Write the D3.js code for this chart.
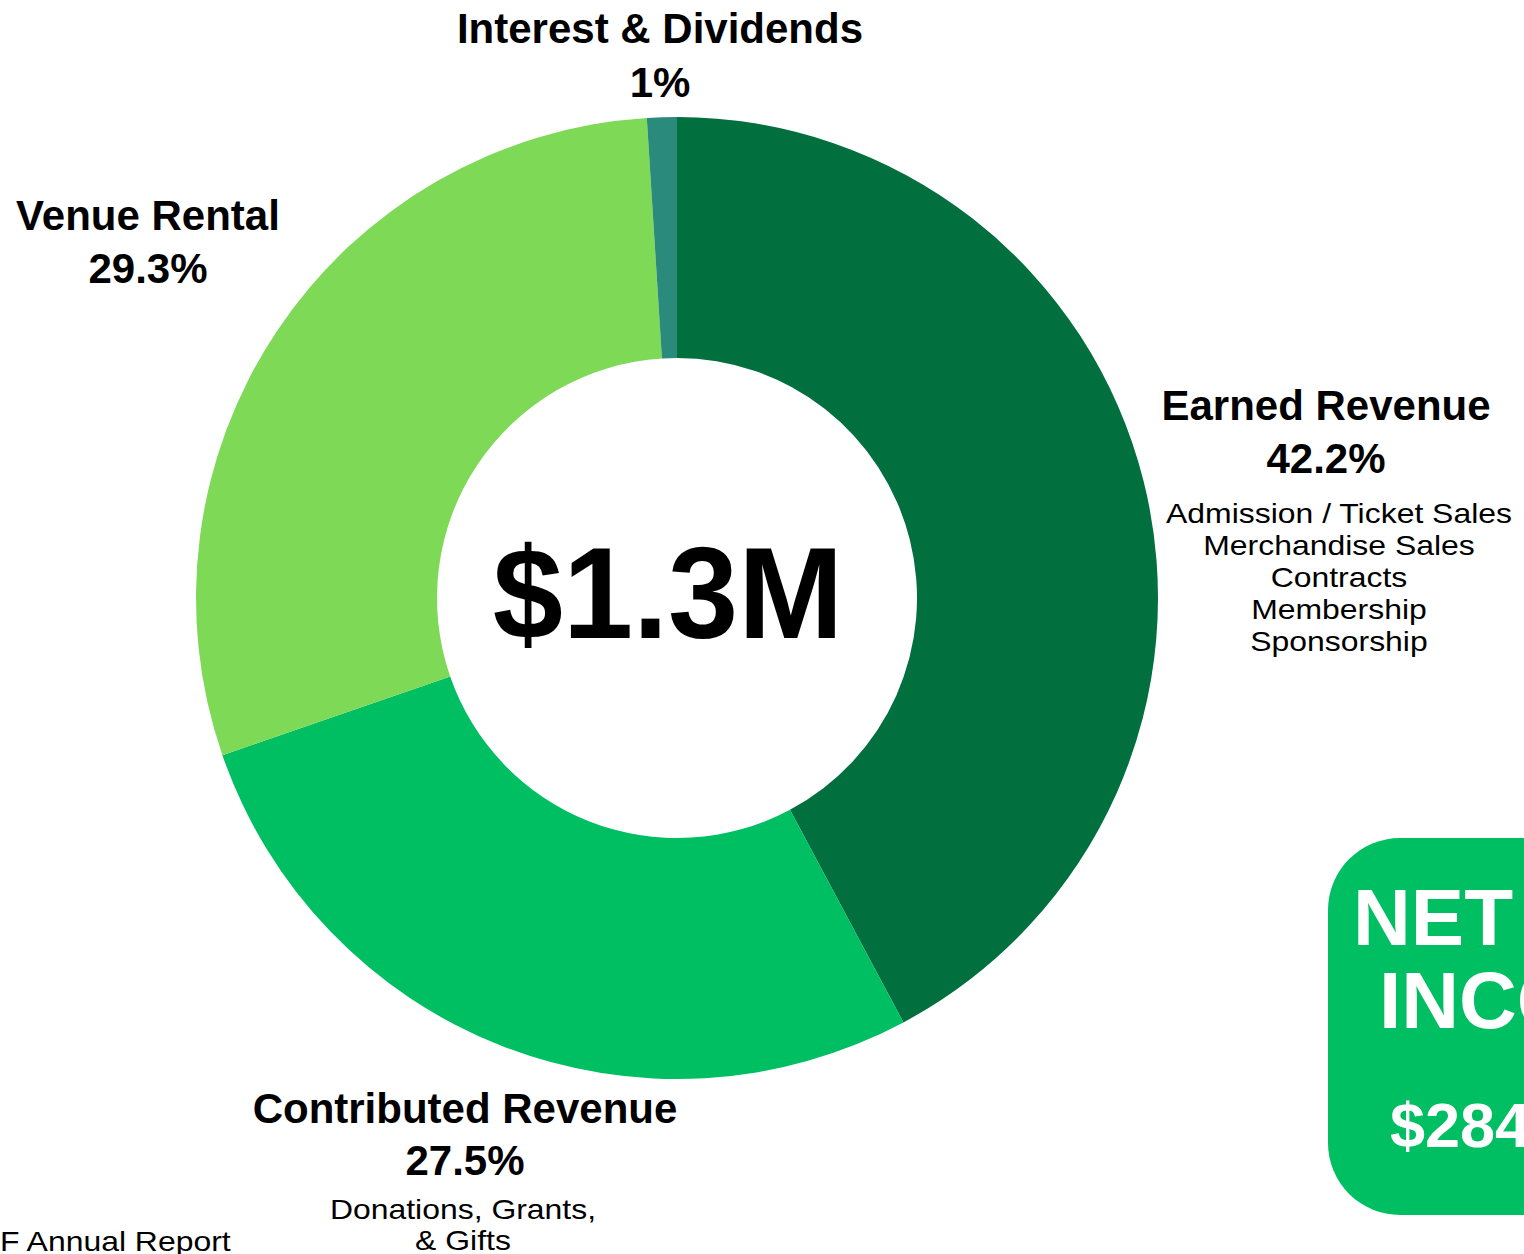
<!DOCTYPE html>
<html>
<head>
<meta charset="utf-8">
<script src="https://cdn.jsdelivr.net/npm/d3@7/dist/d3.min.js"></script>
<style>
  html, body { margin: 0; padding: 0; background: #ffffff; overflow: hidden; }
  svg { display: block; font-family: "Liberation Sans", Arial, Helvetica, sans-serif; }
</style>
</head>
<body>
<svg id="chart" width="1524" height="1254"></svg>
<script>
// ---- data ----
const categories = ["Earned Revenue", "Contributed Revenue", "Venue Rental", "Interest & Dividends"];
const shares = [42.2, 27.5, 29.3, 1];
const percentLabels = ["42.2%", "27.5%", "29.3%", "1%"];
const details = [
  ["Admission / Ticket Sales", "Merchandise Sales", "Contracts", "Membership", "Sponsorship"],
  ["Donations, Grants,", "& Gifts"],
  [],
  []
];
const sliceColors = ["#016f3e", "#00bf63", "#7ed957", "#2a8a7b"];
const totalLabel = "$1.3M";
const netIncomeTitle = ["NET", "INCOME"];
const netIncomeValue = "$284K";
const footerText = "F Annual Report";

// ---- layout ----
const svg = d3.select("#chart");
const cx = 677, cy = 598, outerR = 481, innerR = 240;
const labelPos = [
  { x: 1326, y: 420, dy: 53, dx: 1339, dTop: 523, lh: 32 },
  { x: 465, y: 1123, dy: 52, dx: 463, dTop: 1219, lh: 31 },
  { x: 148, y: 230, dy: 53 },
  { x: 660, y: 43, dy: 54 }
];

const pie = d3.pie().sort(null).value(d => d);
const arc = d3.arc().innerRadius(innerR).outerRadius(outerR);

const g = svg.append("g").attr("transform", `translate(${cx},${cy})`);
g.selectAll("path")
  .data(pie(shares))
  .join("path")
  .attr("d", arc)
  .attr("fill", (d, i) => sliceColors[i]);

function stretch(sel, factor) {
  sel.each(function () {
    const len = this.getComputedTextLength();
    d3.select(this).attr("textLength", len * factor).attr("lengthAdjust", "spacingAndGlyphs");
  });
}

// center total
svg.append("text")
  .attr("x", 668).attr("y", 638)
  .attr("text-anchor", "middle")
  .attr("font-weight", "bold")
  .attr("font-size", 130)
  .attr("fill", "#000")
  .text(totalLabel)
  .call(stretch, 0.97);

// labels
categories.forEach((name, i) => {
  const p = labelPos[i];
  svg.append("text")
    .attr("x", p.x).attr("y", p.y)
    .attr("text-anchor", "middle")
    .attr("font-weight", "bold")
    .attr("font-size", 42)
    .attr("fill", "#000")
    .text(name);
  svg.append("text")
    .attr("x", p.x).attr("y", p.y + p.dy)
    .attr("text-anchor", "middle")
    .attr("font-weight", "bold")
    .attr("font-size", 42)
    .attr("fill", "#000")
    .text(percentLabels[i]);
  details[i].forEach((line, j) => {
    svg.append("text")
      .attr("x", p.dx).attr("y", p.dTop + j * p.lh)
      .attr("text-anchor", "middle")
      .attr("font-size", 28)
      .attr("fill", "#000")
      .text(line)
      .call(stretch, 1.14);
  });
});

// footer
svg.append("text")
  .attr("x", 0).attr("y", 1251)
  .attr("font-size", 28)
  .attr("fill", "#000")
  .text(footerText)
  .call(stretch, 1.14);

// net income box
svg.append("rect")
  .attr("x", 1328).attr("y", 838)
  .attr("width", 400).attr("height", 377)
  .attr("rx", 72).attr("ry", 72)
  .attr("fill", "#00bf63");
svg.append("text")
  .attr("x", 1353).attr("y", 945)
  .attr("font-weight", "bold").attr("font-size", 80)
  .attr("fill", "#fff")
  .text(netIncomeTitle[0]);
svg.append("text")
  .attr("x", 1379).attr("y", 1028)
  .attr("font-weight", "bold").attr("font-size", 80)
  .attr("fill", "#fff")
  .text(netIncomeTitle[1]);
svg.append("text")
  .attr("x", 1390).attr("y", 1147)
  .attr("font-weight", "bold").attr("font-size", 63)
  .attr("fill", "#fff")
  .text(netIncomeValue);
</script>
</body>
</html>
